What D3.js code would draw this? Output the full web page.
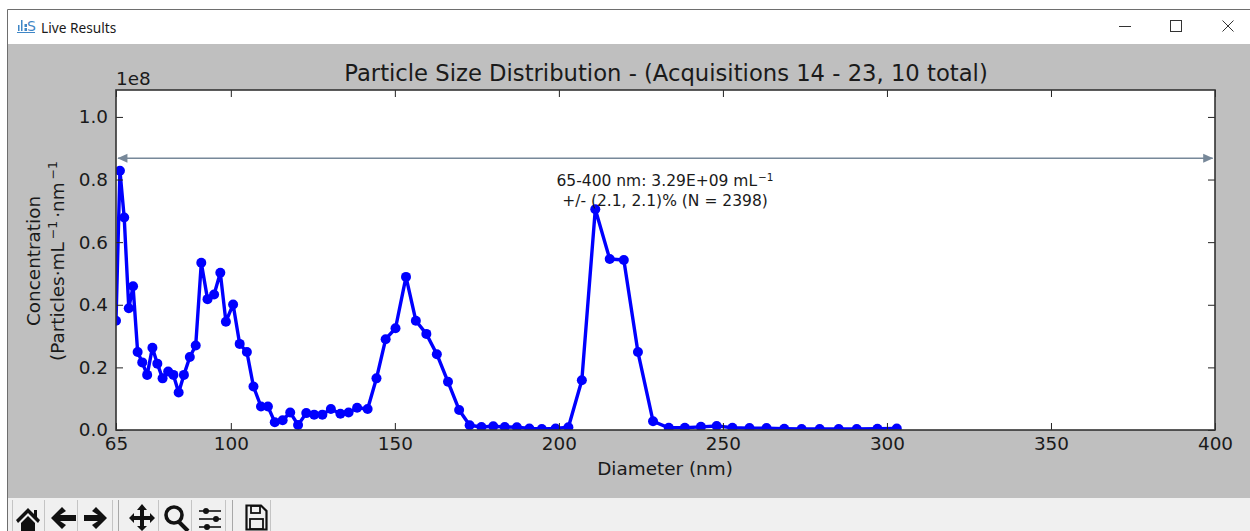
<!DOCTYPE html>
<html><head><meta charset="utf-8">
<script src="https://cdn.jsdelivr.net/npm/d3@7"></script>
<style>
html,body{margin:0;padding:0;background:#fff;overflow:hidden}
svg{display:block}
text{font-family:"DejaVu Sans",sans-serif;fill:#1a1a1a}
.ui{font-family:"Noto Sans","Open Sans",sans-serif}
</style></head><body>
<svg id="c" width="1250" height="531"></svg>
<script>
const windowTitle = "Live Results";
const chartTitle = "Particle Size Distribution - (Acquisitions 14 - 23, 10 total)";
const xLabel = "Diameter (nm)";
const offsetLabel = "1e8";
const xTicks = [65,100,150,200,250,300,350,400];
const yTicks = [0,0.2,0.4,0.6,0.8,1.0];
const xDomain = [65,400];
const yDomain = [0,1.086];
const arrowSpan = [65.6,399.3];
const arrowLevel = 0.868;
const diameters = [65,66.2,67.5,68.9,70.2,71.6,73,74.5,76.1,77.6,79.2,80.9,82.5,84.1,85.7,87.5,89.3,91,92.9,94.9,96.8,98.5,100.7,102.7,104.9,106.9,109.2,111.3,113.4,115.8,118.1,120.5,123,125.4,127.9,130.5,133.4,135.9,138.5,141.7,144.4,147.2,150.2,153.4,156.4,159.6,162.8,166.2,169.6,172.8,176.4,180,183.5,187.2,191,194.8,199,202.9,207,211.1,215.5,219.8,224.1,228.7,233.5,238.4,243.3,248.1,252.9,258.1,263.3,268.7,274,279.5,285.3,290.8,297.1,303];
const concentrations = [0.349,0.828,0.679,0.389,0.459,0.249,0.216,0.176,0.263,0.212,0.165,0.187,0.176,0.12,0.176,0.233,0.27,0.534,0.418,0.433,0.502,0.346,0.401,0.275,0.249,0.139,0.075,0.075,0.025,0.031,0.056,0.016,0.054,0.049,0.049,0.067,0.052,0.056,0.071,0.067,0.165,0.29,0.325,0.489,0.349,0.307,0.242,0.154,0.064,0.015,0.0096,0.012,0.0096,0.009,0.005,0.003,0.005,0.009,0.159,0.705,0.546,0.543,0.249,0.028,0.007,0.007,0.01,0.013,0.007,0.006,0.006,0.004,0.003,0.003,0.003,0.003,0.004,0.005];

const svg = d3.select("#c");
const M = {l:116,r:1215,t:90,b:430};
const x = d3.scaleLinear().domain(xDomain).range([M.l,M.r]);
const y = d3.scaleLinear().domain(yDomain).range([M.b,M.t]);
const FS = 18.4;

// window chrome
svg.append("rect").attr("x",8).attr("y",10).attr("width",1242).attr("height",521).attr("fill","#fff");
svg.append("path").attr("d","M7.5,531V9.5H1250").attr("fill","none").attr("stroke","#6e6e6e");
svg.append("rect").attr("x",8).attr("y",44).attr("width",1242).attr("height",454).attr("fill","#bfbfbf");
svg.append("rect").attr("x",8).attr("y",498).attr("width",1242).attr("height",33).attr("fill","#f0f0f0");
svg.append("text").attr("class","ui").attr("x",41).attr("y",32.5).attr("font-size",13.7).text(windowTitle);
const logo = svg.append("g").attr("fill","#3f86c6");
[[18,25,1.5,6],[21,20,1.5,11],[24.5,24,2.5,3],[24.5,28,2.5,3]].forEach(r=>logo.append("rect").attr("x",r[0]).attr("y",r[1]).attr("width",r[2]).attr("height",r[3]));
logo.append("rect").attr("x",17).attr("y",32).attr("width",18).attr("height",1);
logo.append("text").attr("x",27).attr("y",31).attr("font-size",14).style("fill","#3f86c6").text("S");
const wb = svg.append("g").attr("fill","none").attr("stroke","#333").attr("stroke-width",1);
wb.append("path").attr("d","M1119,26.5H1131");
wb.append("rect").attr("x",1170.5).attr("y",20.5).attr("width",11).attr("height",11);
wb.append("path").attr("d","M1222.5,20.5L1233.5,31.5M1233.5,20.5L1222.5,31.5");

// plot
svg.append("rect").attr("x",M.l).attr("y",M.t).attr("width",M.r-M.l).attr("height",M.b-M.t).attr("fill","#fff");
svg.append("clipPath").attr("id","pc").append("rect").attr("x",M.l).attr("y",M.t).attr("width",M.r-M.l).attr("height",M.b-M.t);
const pts = diameters.map((d,i)=>[d,concentrations[i]]);
const plot = svg.append("g").attr("clip-path","url(#pc)");
plot.append("path").datum(pts)
  .attr("d",d3.line().x(d=>x(d[0])).y(d=>y(d[1])))
  .attr("fill","none").attr("stroke","#0000ff").attr("stroke-width",3.4).attr("stroke-linejoin","round");
plot.selectAll("circle").data(pts).join("circle")
  .attr("cx",d=>x(d[0])).attr("cy",d=>y(d[1])).attr("r",5).attr("fill","#0000ff");

// arrow
const ax0=x(arrowSpan[0]), ax1=x(arrowSpan[1]), ay=y(arrowLevel);
const arrowCol="#778899";
svg.append("line").attr("x1",ax0).attr("x2",ax1).attr("y1",ay).attr("y2",ay).attr("stroke",arrowCol).attr("stroke-width",1.6);
svg.append("path").attr("d",`M${ax0-0.5},${ay}l10,-4.5v9z`).attr("fill",arrowCol);
svg.append("path").attr("d",`M${ax1+0.5},${ay}l-10,-4.5v9z`).attr("fill",arrowCol);

// annotation
const ann = svg.append("g").attr("font-size",15.5).attr("text-anchor","middle");
const l1 = ann.append("text").attr("x",665).attr("y",186);
l1.append("tspan").text("65-400 nm: 3.29E+09 mL");
l1.append("tspan").attr("dy",-5).attr("dx",1).attr("font-size",10.5).text("−1");
ann.append("text").attr("x",665).attr("y",205.5).text("+/- (2.1, 2.1)% (N = 2398)");

// axes via d3
function style(g){
  g.select(".domain").remove();
  g.selectAll("line").attr("stroke","#222").attr("stroke-width",1);
  g.selectAll("text").attr("font-size",FS).attr("font-family","DejaVu Sans").style("fill","#1a1a1a");
}
const fmtY = d3.format(".1f");
svg.append("g").attr("transform",`translate(0,${M.b})`)
  .call(d3.axisBottom(x).tickValues(xTicks).tickSize(-7).tickPadding(7).tickFormat(d3.format("d"))).call(style);
svg.append("g").attr("transform",`translate(0,${M.t})`)
  .call(d3.axisTop(x).tickValues(xTicks).tickSize(-7).tickFormat("")).call(style);
svg.append("g").attr("transform",`translate(${M.l},0)`)
  .call(d3.axisLeft(y).tickValues(yTicks).tickSize(-7).tickPadding(8).tickFormat(fmtY)).call(style);
svg.append("g").attr("transform",`translate(${M.r},0)`)
  .call(d3.axisRight(y).tickValues(yTicks).tickSize(-7).tickFormat("")).call(style);
svg.append("rect").attr("x",M.l).attr("y",M.t).attr("width",M.r-M.l).attr("height",M.b-M.t)
  .attr("fill","none").attr("stroke","#333").attr("stroke-width",1.6);

// labels
svg.append("text").attr("x",666).attr("y",81).attr("text-anchor","middle").attr("font-size",22.7).text(chartTitle);
svg.append("text").attr("x",116).attr("y",85).attr("font-size",FS).text(offsetLabel);
svg.append("text").attr("x",665).attr("y",475).attr("text-anchor","middle").attr("font-size",FS).text(xLabel);
const yl = svg.append("g").attr("transform","translate(40,261) rotate(-90)").attr("text-anchor","middle").attr("font-size",FS);
yl.append("text").attr("x",0).attr("y",0).text("Concentration");
const yl2 = yl.append("text").attr("x",0).attr("y",24);
yl2.append("tspan").text("(Particles·mL");
yl2.append("tspan").attr("dy",-7).attr("dx",3).attr("font-size",12.5).text("−1");
yl2.append("tspan").attr("dy",7).attr("dx",3).text("·nm");
yl2.append("tspan").attr("dy",-7).attr("dx",3).attr("font-size",12.5).text("−1");

// toolbar
const tb = svg.append("g");
[12.5,44.5,77.5,112.5,158.5,191.5,225.5,270.5].forEach(v=>tb.append("line").attr("x1",v).attr("x2",v).attr("y1",500).attr("y2",531).attr("stroke","#c4c4c4"));
[118.5,232.5].forEach(v=>tb.append("line").attr("x1",v).attr("x2",v).attr("y1",500).attr("y2",531).attr("stroke","#a8a8a8"));
const ic = svg.append("g").attr("fill","#111").attr("stroke","none");
ic.append("path").attr("d","M16,520L28,508L34,514V510H37V517L40,520L38,523L28,513L18,523Z");
ic.append("path").attr("d","M21,523L28,516L35,523V531H21Z");
ic.append("path").attr("d","M51,518L62,507L66,511L60,515H76V521H60L66,525L62,529Z");
ic.append("path").attr("d","M107,518L96,507L92,511L98,515H84V521H98L92,525L96,529Z");
ic.append("path").attr("d","M142,504L147,510H144V516H150V513L155,518L150,523V520H144V526H147L142,531L137,526H140V520H134V523L129,518L134,513V516H140V510H137Z");
ic.append("circle").attr("cx",174).attr("cy",515).attr("r",8).attr("fill","none").attr("stroke","#111").attr("stroke-width",3.6);
ic.append("path").attr("d","M178,521L188,531").attr("stroke","#111").attr("stroke-width",4);
[[511,206],[519,216],[527,207]].forEach(r=>{
  ic.append("line").attr("x1",199).attr("x2",221).attr("y1",r[0]).attr("y2",r[0]).attr("stroke","#111").attr("stroke-width",1.6);
  ic.append("circle").attr("cx",r[1]).attr("cy",r[0]).attr("r",3);
});
ic.append("path").attr("d","M246.5,505.5H261L266.5,511V529.5H246.5Z").attr("fill","none").attr("stroke","#111").attr("stroke-width",2.2);
ic.append("rect").attr("x",251).attr("y",506).attr("width",9).attr("height",7).attr("fill","none").attr("stroke","#111").attr("stroke-width",1.8);
ic.append("rect").attr("x",250).attr("y",519).attr("width",13).attr("height",10).attr("fill","none").attr("stroke","#111").attr("stroke-width",1.8);
</script>
</body></html>
